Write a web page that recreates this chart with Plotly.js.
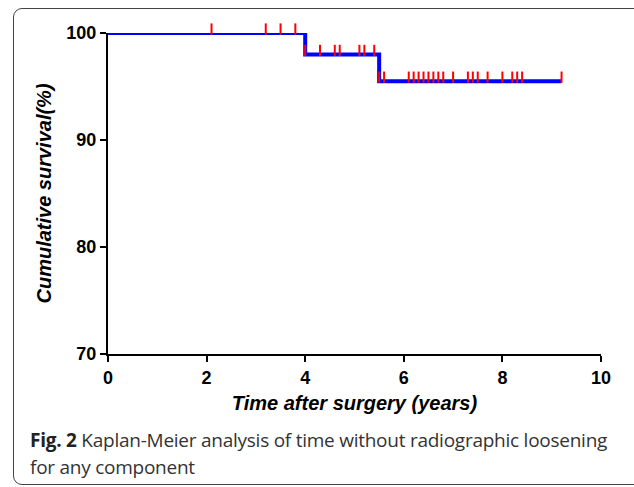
<!DOCTYPE html>
<html>
<head>
<meta charset="utf-8">
<script src="https://cdn.plot.ly/plotly-3.0.1.min.js"></script>
<style>
  html, body { margin: 0; padding: 0; background: #fff; }
  #wrap { position: relative; width: 634px; height: 487px; overflow: hidden; }
  #chart { position: absolute; left: 0; top: 0; width: 634px; height: 487px; }
  #frame { position: absolute; left: 13px; top: 8px; width: 660px; height: 475px;
           border: 1.3px solid #444; border-radius: 9px; pointer-events: none; }
  #caption { position: absolute; left: 30px; top: 427px; width: 600px;
             font-family: "Open Sans", "Noto Sans", sans-serif; font-size: 19px;
             line-height: 27px; color: #333; letter-spacing: -0.25px; }
  #caption b { color: #222; }
</style>
</head>
<body>
<div id="wrap">
  <div id="chart"></div>
  <div id="frame"></div>
  <div id="caption"><b>Fig. 2</b> Kaplan-Meier analysis of time without radiographic loosening<br>for any component</div>
</div>
<script>
// Kaplan-Meier step curve
const stepTimes = [0, 4.0, 5.5, 9.2];
const stepSurvival = [100, 98, 95.5, 95.5];

// Censored observations
const censorTimes = [2.1, 3.2, 3.5, 3.8, 4.0, 4.3, 4.6, 4.7, 5.1, 5.2, 5.4,
  5.5, 5.6, 6.1, 6.2, 6.3, 6.4, 6.5, 6.6, 6.7, 6.8, 7.0, 7.3, 7.4, 7.5, 7.7,
  8.0, 8.2, 8.3, 8.4, 9.2];
const censorSurvival = [100, 100, 100, 100, 98, 98, 98, 98, 98, 98, 98,
  95.5, 95.5, 95.5, 95.5, 95.5, 95.5, 95.5, 95.5, 95.5, 95.5, 95.5, 95.5, 95.5, 95.5, 95.5,
  95.5, 95.5, 95.5, 95.5, 95.5];

const xTicks = [0, 2, 4, 6, 8, 10];
const yTicks = [70, 80, 90, 100];

const tickFont = {family: "Liberation Sans, Arial, sans-serif", size: 18, color: "#000", weight: 700};
const titleFont = {family: "Liberation Sans, Arial, sans-serif", size: 20, color: "#000", weight: 700, style: "italic"};

const data = [
  {
    x: stepTimes, y: stepSurvival, type: "scatter", mode: "lines",
    line: {shape: "hv", color: "#0000ff", width: 4},
    hoverinfo: "skip", showlegend: false
  },
  {
    x: censorTimes, y: censorSurvival, type: "scatter", mode: "markers",
    cliponaxis: false,
    marker: {symbol: "line-ns", size: 8, angle: 180, standoff: 4,
             color: "#ff0000", line: {color: "#ff0000", width: 2}},
    hoverinfo: "skip", showlegend: false
  }
];

const layout = {
  width: 634, height: 487,
  margin: {l: 108, r: 33, t: 33, b: 133},
  paper_bgcolor: "#ffffff", plot_bgcolor: "#ffffff",
  showlegend: false,
  xaxis: {
    range: [0, 10], tickvals: xTicks, ticktext: xTicks.map(String),
    showgrid: false, zeroline: false,
    showline: true, linecolor: "#000", linewidth: 2,
    ticks: "outside", ticklen: 6, tickwidth: 2, tickcolor: "#000",
    tickfont: tickFont,
    title: {text: "Time after surgery (years)", font: titleFont, standoff: 9}
  },
  yaxis: {
    range: [70, 100], tickvals: yTicks, ticktext: yTicks.map(String),
    showgrid: false, zeroline: false,
    showline: true, linecolor: "#000", linewidth: 2,
    ticks: "outside", ticklen: 6, tickwidth: 2, tickcolor: "#000",
    tickfont: tickFont,
    title: {text: "Cumulative survival(%)", font: titleFont, standoff: 9}
  }
};

Plotly.newPlot("chart", data, layout, {displayModeBar: false, staticPlot: true});
</script>
</body>
</html>
